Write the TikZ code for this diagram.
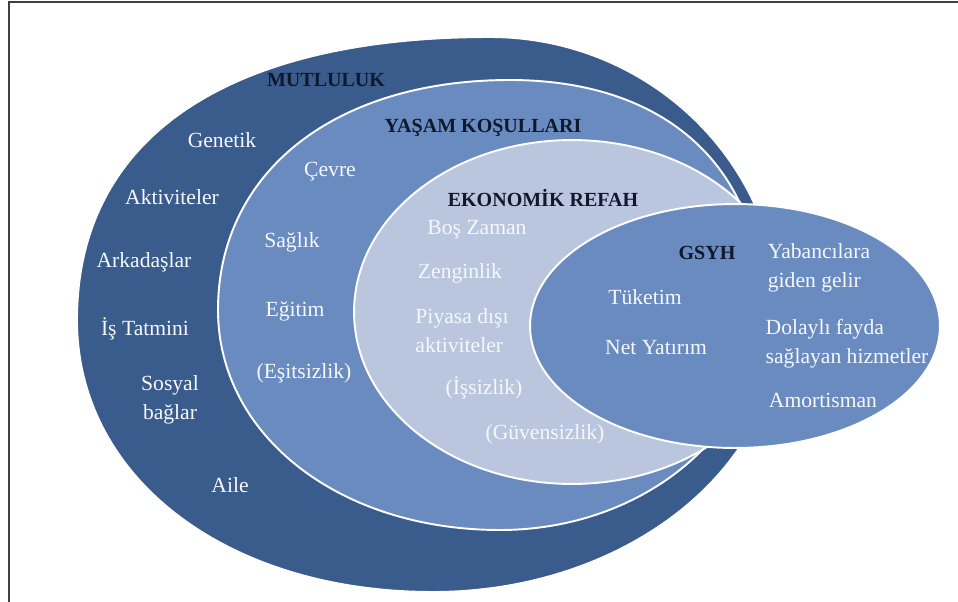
\documentclass[tikz,border=0pt]{standalone}
\usepackage{fontspec}
\setmainfont{Liberation Serif}
\definecolor{outerc}{RGB}{58,92,140}
\definecolor{midc}{RGB}{106,139,191}
\definecolor{lightc}{RGB}{186,198,222}
\definecolor{gsyhc}{RGB}{106,139,192}
\definecolor{headc}{RGB}{15,25,45}
\definecolor{itemc}{RGB}{245,248,252}
\begin{document}
\begin{tikzpicture}[x=0.02cm,y=-0.02cm,
  item/.style={text=itemc, font=\fontsize{12.3}{16.5}\selectfont, inner sep=0pt},
  head/.style={text=headc, font=\fontsize{11.4}{13}\selectfont\bfseries, inner sep=0pt},
  band/.style={draw=white, line width=1.1pt}]
\useasboundingbox (0,0) rectangle (958,602);
\fill[white] (0,0) rectangle (958,602);
\draw[line width=0.9pt, black!75] (9,602) -- (9,2) -- (958,2);
% MUTLULUK
\path[band, fill=outerc] (77,320)
  .. controls (77,138.9) and (225.7,37) .. (490,37)
  .. controls (650.1,37) and (780,163.8) .. (780,320)
  .. controls (780,470.1) and (624.5,592) .. (433,592)
  .. controls (226.5,592) and (77,477.8) .. (77,320) -- cycle;
% YASAM KOSULLARI
\path[band, fill=midc] (218,310)
  .. controls (218,172) and (334.8,80) .. (510,80)
  .. controls (666.2,80) and (762,167.4) .. (762,310)
  .. controls (762,431.4) and (644.6,530) .. (500,530)
  .. controls (339.3,530) and (218,435.4) .. (218,310) -- cycle;
% EKONOMIK REFAH
\path[band, fill=lightc] (572,312) ellipse [x radius=4.36cm, y radius=3.44cm];
% GSYH
\path[band, fill=gsyhc] (735,326) ellipse [x radius=4.1cm, y radius=2.44cm];

\node[head] (mut) at (326,80) {MUTLULUK};
\node[head] (yas) at (483,128) {YAŞAM KOŞULLARI};
\node[head] (eko) at (543,198) {EKONOMİK REFAH};
\node[head] (gsyh) at (707,253) {GSYH};

\node[item] (gen) at (222,140) {Genetik};
\node[item] (akt) at (172,197) {Aktiviteler};
\node[item] (ark) at (144,262) {Arkadaşlar};
\node[item] (ist) at (145,329) {İş Tatmini};
\node[item, align=center] (sos) at (170,400) {Sosyal\\bağlar};
\node[item] (aile) at (230,485) {Aile};

\node[item] (cev) at (330,172) {Çevre};
\node[item] (sag) at (292,242) {Sağlık};
\node[item] (egi) at (295,311) {Eğitim};
\node[item] (esi) at (304,373) {(Eşitsizlik)};

\node[item] (bos) at (477,230) {Boş Zaman};
\node[item] (zen) at (460,273) {Zenginlik};
\node[item, align=left] (piy) at (462,331) {Piyasa dışı\\aktiviteler};
\node[item] (iss) at (484,388) {(İşsizlik)};
\node[item] (guv) at (545,434) {(Güvensizlik)};

\node[item] (tuk) at (645,297) {Tüketim};
\node[item] (net) at (656,348) {Net Yatırım};
\node[item, align=left] (yab) at (819,268) {Yabancılara\\giden gelir};
\node[item, align=left] (dol) at (847,344) {Dolaylı fayda\\sağlayan hizmetler};
\node[item] (amo) at (823,400) {Amortisman};
\end{tikzpicture}
\end{document}
